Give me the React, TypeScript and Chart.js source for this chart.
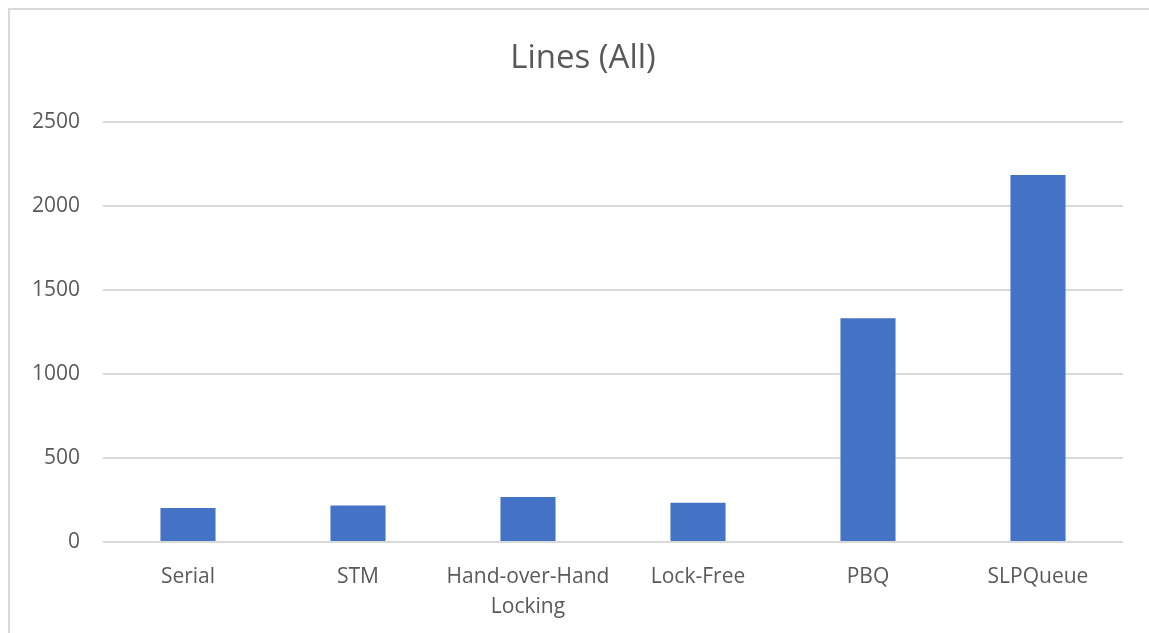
import React, { useEffect, useRef } from "react";
import { Chart, registerables } from "chart.js";

Chart.register(...registerables);

const categories: (string | string[])[] = [
  "Serial",
  "STM",
  ["Hand-over-Hand", "Locking"],
  "Lock-Free",
  "PBQ",
  "SLPQueue",
];
const values: number[] = [202, 218, 268, 234, 1332, 2185];
const yMin = 0;
const yMax = 2500;
const yStep = 500;
const titleText = "Lines (All)";

export default function App() {
  const ref = useRef<HTMLCanvasElement | null>(null);

  useEffect(() => {
    if (!ref.current) return;
    const chart = new Chart(ref.current, {
      type: "bar",
      data: {
        labels: categories,
        datasets: [
          {
            data: values,
            backgroundColor: "#4472C4",
            borderWidth: 0,
            categoryPercentage: 1,
            barPercentage: 0.324,
          },
        ],
      },
      options: {
        animation: false,
        responsive: false,
        maintainAspectRatio: false,
        layout: { padding: 0 },
        plugins: {
          legend: { display: false },
          tooltip: { enabled: false },
          title: {
            display: true,
            text: titleText,
            color: "#595959",
            font: { family: "Open Sans", size: 33, weight: "normal", lineHeight: 1.2 },
            padding: { top: 29, bottom: 43.4 },
          },
        },
        scales: {
          x: {
            grid: { display: false, drawTicks: false },
            border: { display: false },
            ticks: {
              color: "#595959",
              font: { family: "Open Sans", size: 21, lineHeight: 1.43 },
              padding: 20,
              maxRotation: 0,
              autoSkip: false,
            },
            afterFit: (scale: any) => {
              scale.height = 98;
            },
          },
          y: {
            min: yMin,
            max: yMax,
            ticks: {
              stepSize: yStep,
              color: "#595959",
              font: { family: "Open Sans", size: 21 },
              padding: 23,
              callback: (v: any) => String(v),
            },
            grid: { color: "#d9d9d9", lineWidth: 2, drawTicks: false },
            border: { display: false },
            afterFit: (scale: any) => {
              scale.width = 93;
            },
          },
          yRight: {
            position: "right",
            display: true,
            min: yMin,
            max: yMax,
            grid: { display: false, drawTicks: false },
            border: { display: false },
            ticks: { display: false },
            afterFit: (scale: any) => {
              scale.width = 33;
            },
          },
        },
      },
    });
    return () => chart.destroy();
  }, []);

  return (
    <div
      style={{
        position: "fixed",
        left: 8,
        top: 8,
        width: 1160,
        height: 650,
        border: "2px solid #d9d9d9",
        background: "#fff",
        overflow: "hidden",
      }}
    >
      <canvas ref={ref} width={1146} height={630} style={{ display: "block", width: 1146, height: 630 }} />
    </div>
  );
}
